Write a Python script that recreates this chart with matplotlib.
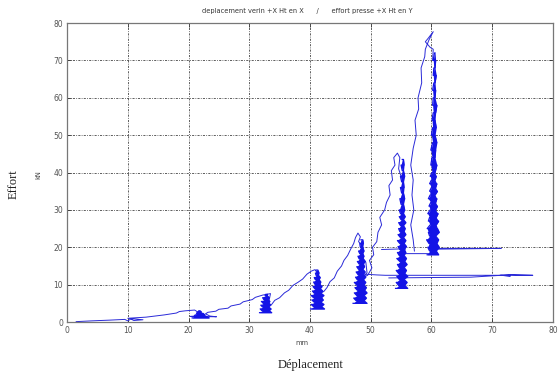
import matplotlib
matplotlib.use("Agg")
import matplotlib.pyplot as plt

# ---- data ----
x_ticks = [0, 10, 20, 30, 40, 50, 60, 70, 80]
y_ticks = [0, 10, 20, 30, 40, 50, 60, 70, 80]

main_x = [1.5, 4, 7, 9.5, 10, 10.5, 11, 12.5, 10, 13, 16, 18, 18.5, 19.5, 21, 21.6,
          21.5, 20.3, 24.6, 23.5, 22.8, 23.2, 24.5, 25, 26.5, 27, 28.5, 29, 30.5, 31, 32.2, 33.5, 33.2,
          33.6, 34.2, 35, 35.8, 36.5, 37.2, 38, 38.8, 39.5, 40.2, 40.8, 41.2, 41.7, 41.5,
          42.3, 42.8, 43.3, 44, 44.5, 45.2, 45.6, 46.2, 46.7, 47.2, 47.5, 47.9, 48.3, 48.0, 48.6,
          48.4, 49.2, 49.4, 48.8, 49.5, 50.2, 49.8, 50.5, 50.3, 51.0, 51.2, 51.8, 51.5, 52.3,
          52.6, 53.2, 53.0, 53.6, 53.4, 54.0, 53.8, 54.4, 54.8, 54.6, 55.0]
main_y = [0.1, 0.3, 0.5, 0.7, 0.3, 0.8, 0.4, 0.6, 1.0, 1.3, 1.9, 2.4, 2.8, 3.0, 3.2, 2.6,
          1.6, 1.5, 1.4, 1.6, 2.2, 2.6, 2.9, 3.4, 3.7, 4.3, 4.8, 5.4, 6.0, 6.6, 7.2, 7.6, 5.2,
          4.5, 5.8, 6.5, 7.8, 8.5, 9.8, 10.6, 11.5, 12.8, 13.6, 14.0, 13.2, 10.5, 7.5,
          8.2, 9.2, 10.8, 11.8, 13.6, 15.0, 16.5, 17.8, 19.5, 21.0, 22.6, 23.8, 22.8, 21.5, 20.5,
          18.0, 16.0, 13.2, 12.0, 12.5, 14.5, 16.5, 18.0, 20.0, 21.5, 24.0, 26.0, 28.0, 30.0,
          32.0, 34.0, 36.5, 38.0, 40.5, 42.0, 44.0, 45.2, 44.0, 41.0, 39.0]

low_x = [49.0, 51.0, 52.4, 76.7, 73.0, 71.3, 73.0, 71.5, 66.5, 53.0]
low_y = [12.8, 12.6, 12.5, 12.5, 12.7, 12.5, 12.3, 12.5, 12.0, 11.8]

mid_x = [51.8, 55.7, 55.5, 60.0]
mid_y = [19.4, 19.6, 18.3, 18.3]

rise_x = [57.2, 57.0, 56.6, 57.1, 56.8, 57.0, 56.6, 57.0, 57.5, 57.3, 57.9, 57.8, 58.4, 58.3,
          58.9, 59.0, 59.6, 60.3, 59.5, 59.0, 59.8, 60.3, 60.2]
rise_y = [19.0, 22.0, 26.0, 30.0, 34.0, 38.0, 42.0, 46.5, 50.0, 54.0, 57.0, 60.0, 64.0, 68.0,
          71.0, 73.0, 75.5, 77.7, 76.0, 75.0, 73.5, 73.0, 70.0]

top_x = [60.5, 71.5, 61.0]
top_y = [19.7, 19.7, 19.5]

b22_y = [1.1, 1.5, 1.9, 2.3, 2.7, 3.0]
b22_l = [20.6, 20.9, 21.1, 21.3, 21.5, 21.7]
b22_r = [23.4, 23.0, 22.7, 22.4, 22.1, 21.9]

b33_y = [2.5, 3.0, 3.5, 4.0, 4.5, 5.0, 5.5, 6.0, 6.5, 7.0, 7.4]
b33_l = [31.7, 32.1, 31.8, 32.2, 31.9, 32.3, 32.0, 32.4, 32.2, 32.6, 32.7]
b33_r = [33.7, 33.3, 33.6, 33.2, 33.5, 33.2, 33.4, 33.1, 33.3, 33.0, 33.0]

b41_y = [3.5, 4.1, 4.7, 5.3, 5.9, 6.5, 7.1, 7.7, 8.3, 8.9, 9.5, 10.1, 10.7, 11.3, 11.9, 12.5, 13.1, 13.9]
b41_l = [40.1, 40.6, 40.2, 40.7, 40.3, 40.6, 40.2, 40.7, 40.4, 40.8, 40.5, 40.8, 40.6, 40.9, 40.7, 41.0, 40.9, 41.0]
b41_r = [42.4, 41.9, 42.3, 41.8, 42.2, 41.9, 42.3, 41.8, 42.1, 41.7, 42.0, 41.6, 41.8, 41.5, 41.7, 41.4, 41.5, 41.3]

b48_y = [5.0, 5.7, 6.4, 7.1, 7.8, 8.5, 9.2, 9.9, 10.6, 11.3, 12.0, 12.7, 13.4, 14.1, 14.8,
         15.5, 16.2, 16.9, 17.6, 18.3, 19.0, 20.0, 21.0, 22.0]
b48_l = [47.1, 47.6, 47.2, 47.7, 47.3, 47.8, 47.4, 47.7, 47.3, 47.8, 47.5, 47.9, 47.6, 48.0,
         47.7, 48.1, 47.8, 48.1, 47.9, 48.2, 48.0, 48.3, 48.2, 48.4]
b48_r = [49.4, 48.9, 49.3, 48.9, 49.4, 49.0, 49.3, 48.9, 49.2, 48.8, 49.2, 48.8, 49.1, 48.7,
         49.0, 48.8, 49.1, 48.7, 48.9, 48.7, 48.9, 48.7, 48.8, 48.7]

b55_y = [9.0, 9.8, 10.6, 11.4, 12.2, 13.0, 13.8, 14.6, 15.4, 16.2, 17.0, 17.8, 18.6, 19.4,
         20.2, 21.0, 21.8, 22.6, 23.4, 24.2, 25.0, 25.8, 26.6, 27.4, 28.2, 29.0, 30.0,
         31.5, 33.0, 34.5, 36.0, 37.5, 39.0, 40.5, 42.0, 43.5]
b55_l = [54.1, 54.6, 54.2, 54.7, 54.3, 54.6, 54.2, 54.7, 54.4, 54.8, 54.3, 54.7, 54.4, 54.8,
         54.5, 54.8, 54.4, 54.9, 54.5, 54.8, 54.6, 54.9, 54.6, 55.0, 54.7, 54.9, 54.7,
         55.0, 54.8, 55.1, 54.9, 55.1, 54.9, 55.2, 55.0, 55.2]
b55_r = [56.1, 55.6, 56.0, 55.5, 56.1, 55.6, 55.9, 55.5, 56.0, 55.6, 55.9, 55.5, 55.8, 55.5,
         55.9, 55.5, 55.8, 55.4, 55.8, 55.5, 55.7, 55.4, 55.8, 55.4, 55.7, 55.4, 55.6,
         55.4, 55.6, 55.4, 55.5, 55.4, 55.6, 55.4, 55.5, 55.4]

b60_y = [18, 19, 20, 21, 22, 23, 24, 25, 26, 27, 28, 29, 30, 31, 32, 33, 34, 35, 36, 37, 38, 39, 40,
         42, 44, 46, 48, 50, 52, 54, 56, 58, 60, 62, 64, 66, 68, 70, 72]
b60_l = [59.3, 59.7, 59.4, 59.6, 59.2, 59.7, 59.5, 59.3, 59.8, 59.5, 59.7, 59.4, 59.8, 59.6, 59.9,
         59.5, 59.8, 59.7, 60.0, 59.7, 60.0, 59.8, 60.1, 59.9, 60.1, 59.9, 60.2, 60.0, 60.2, 60.1,
         60.3, 60.2, 60.3, 60.2, 60.4, 60.3, 60.4, 60.3, 60.5]
b60_r = [61.2, 60.8, 61.3, 60.9, 61.2, 60.7, 61.3, 61.0, 60.8, 61.2, 60.8, 61.1, 60.7, 61.0, 60.7,
         60.9, 60.6, 61.0, 60.7, 60.9, 60.6, 60.8, 60.6, 60.9, 60.6, 60.7, 60.9, 60.6, 60.8, 60.6,
         60.7, 60.9, 60.6, 60.7, 60.6, 60.8, 60.6, 60.7, 60.6]

# ---- drawing ----
LINE = "#2a2ad8"
BLOB = "#1414e6"

fig = plt.figure(figsize=(5.59, 3.76), dpi=100)
ax = fig.add_axes([0.12, 0.1436, 0.869, 0.795])

grid_style = (0, (2.5, 1.5, 1, 1.5))
for t in x_ticks[1:-1]:
    ax.axvline(t, color="#444444", lw=0.6, ls=grid_style, zorder=0)
for t in y_ticks[1:-1]:
    ax.axhline(t, color="#444444", lw=0.6, ls=grid_style, zorder=0)

for xs, ys in [(main_x, main_y), (low_x, low_y), (mid_x, mid_y), (rise_x, rise_y), (top_x, top_y)]:
    ax.plot(xs, ys, color=LINE, lw=0.7, zorder=2)


def zigzag(ys, ls, rs):
    px, py = [], []
    for i, (y, l, r) in enumerate(zip(ys, ls, rs)):
        if i % 2 == 0:
            px += [l, r]
        else:
            px += [r, l]
        py += [y, y]
    return px, py


for ys, ls, rs in [(b22_y, b22_l, b22_r), (b33_y, b33_l, b33_r), (b41_y, b41_l, b41_r),
                   (b48_y, b48_l, b48_r), (b55_y, b55_l, b55_r), (b60_y, b60_l, b60_r)]:
    px, py = zigzag(ys, ls, rs)
    ax.plot(px, py, color=BLOB, lw=0.9, zorder=3)
    ax.fill_betweenx(ys, ls, rs, color=BLOB, lw=0, zorder=3)

ax.set_xlim(0, 80)
ax.set_ylim(0, 80)
ax.set_xticks(x_ticks)
ax.set_yticks(y_ticks)
ax.tick_params(direction="in", length=3, width=0.6, labelsize=5.5, colors="#333333",
               top=True, right=True, pad=3)
for lab in ax.get_xticklabels() + ax.get_yticklabels():
    lab.set_color("#555555")
for s in ax.spines.values():
    s.set_color("#777777")
    s.set_linewidth(0.9)

fig.text(0.55, 0.972, "deplacement verin +X Ht en X      /      effort presse +X Ht en Y",
         ha="center", va="center", fontsize=4.8, color="#333333")
fig.text(0.068, 0.535, "kN", rotation=90, ha="center", va="center", fontsize=4.8, color="#444444")
fig.text(0.54, 0.087, "mm", ha="center", va="center", fontsize=4.8, color="#444444")
fig.text(0.024, 0.51, "Effort", rotation=90, ha="center", va="center", fontsize=9,
         family="Liberation Serif", color="#222222")
fig.text(0.555, 0.028, "Déplacement", ha="center", va="center", fontsize=9,
         family="Liberation Serif", color="#222222")

fig.savefig("out.png", dpi=100)
